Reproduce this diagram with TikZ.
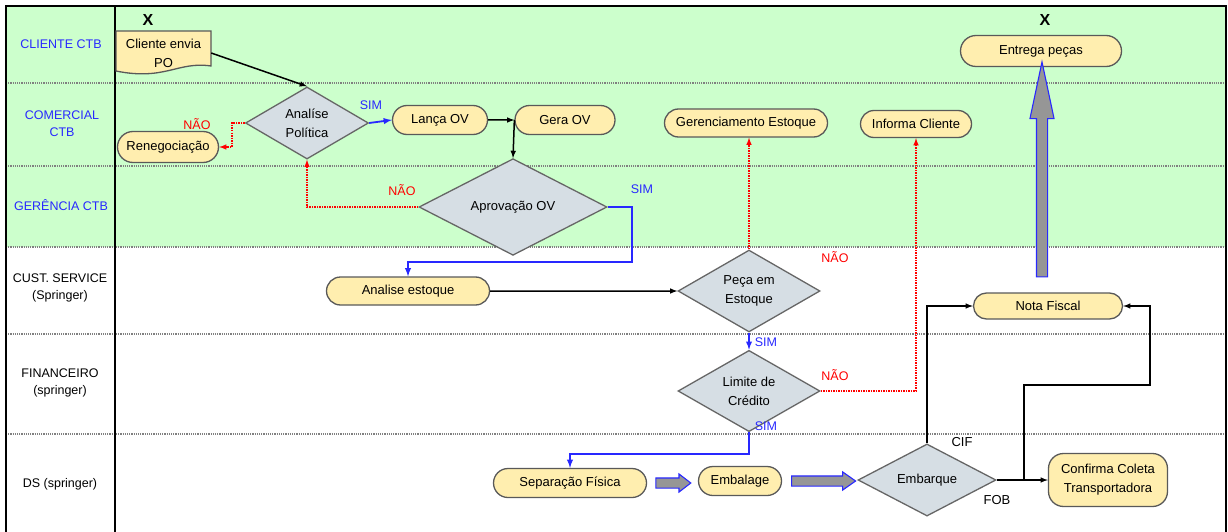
\documentclass[tikz,border=0pt]{standalone}
\usepackage{fontspec}
\setmainfont{Liberation Sans}
\usepackage{tikz}
\usetikzlibrary{positioning}
\usetikzlibrary{shapes.geometric, shapes.misc, shapes.arrows}
\usetikzlibrary{arrows}

\definecolor{lanegreen}{RGB}{204,255,204}
\definecolor{boxyellow}{RGB}{255,238,175}
\definecolor{diagray}{RGB}{214,222,228}
\definecolor{lblblue}{RGB}{40,40,255}
\definecolor{arrowgray}{RGB}{150,150,150}

\begin{document}
\begin{tikzpicture}[x=1pt, y=-1pt,
		every node/.style={font=\fontsize{13}{19}\selectfont},
		process/.style={
			draw=black!65,
			fill=boxyellow,
			rounded rectangle,
			line width=1.3pt,
			inner sep=2pt
		},
		decision/.style={
			draw=black!60,
			fill=diagray,
			diamond,
			line width=1.3pt,
			inner sep=0pt,
			align=center
		},
		blockarrow/.style={
			single arrow,
			draw=lblblue,
			fill=arrowgray,
			line width=1.1pt,
			inner xsep=0pt,
			inner ysep=4.5pt,
			single arrow head extend=4pt,
			single arrow tip angle=75
		},
		lanelabel/.style={font=\fontsize{12.5}{17}\selectfont, align=center},
		flow/.style={draw=black, line width=1.5pt, -latex},
		yesflow/.style={draw=lblblue, line width=1.8pt, -latex},
		noflow/.style={draw=red, densely dotted, line width=1.5pt, -latex},
		yeslabel/.style={text=lblblue, font=\fontsize{12.5}{15}\selectfont},
		nolabel/.style={text=red, font=\fontsize{12.5}{15}\selectfont}
	]
		\useasboundingbox (0,0) rectangle (1228,532);
		
		% lanes
		\fill[lanegreen] (6,6) rectangle (1226,247);
		\foreach \ly in {83,166,247,334,434}
			\draw[gray, densely dotted, line width=1.2pt] (6,\ly) -- (1226,\ly);
		\draw[line width=2.5pt] (6,532) -- (6,6) -- (1226,6) -- (1226,532);
		\draw[line width=2.5pt] (115,6) -- (115,532);
		
		\node[lanelabel, text=lblblue] (lcliente) at (61,44) {CLIENTE CTB};
		\node[lanelabel, text=lblblue] (lcomercial) at (62,124) {COMERCIAL\\CTB};
		\node[lanelabel, text=lblblue] (lgerencia) at (61,205) {GERÊNCIA CTB};
		\node[lanelabel] (lcust) at (60,288) {CUST. SERVICE\\(Springer)};
		\node[lanelabel] (lfin) at (60,383) {FINANCEIRO\\(springer)};
		\node[lanelabel] (lds) at (60,484) {DS (springer)};
		
		\node[font=\bfseries\fontsize{16}{16}\selectfont] (xinicio) at (148,20) {X};
		\node[font=\bfseries\fontsize{16}{16}\selectfont] (xfim) at (1045,20) {X};
		
		% documento do cliente
		\draw[draw=black!65, fill=boxyellow, line width=1.3pt] (116,31) -- (211,31) -- (211,66) .. controls (178,61) and (165,81) .. (116,71) -- cycle;
		\node[minimum width=95, minimum height=44, inner sep=0, align=center] (po) at (163.5,53) {Cliente envia\\PO};
		
		\node[decision, minimum width=123, minimum height=71] (analise) at (307,123) {Analíse\\Política};
		\node[process, minimum width=105, minimum height=31] (reneg) at (168,147) {Renegociação};
		\node[process, minimum width=99, minimum height=29] (lancaov) at (440,120) {Lança OV};
		\node[process, minimum width=104, minimum height=29] (geraov) at (565,120) {Gera OV};
		\node[decision, minimum width=188, minimum height=75] (aprovacao) at (513,207) {Aprovação OV};
		\node[process, minimum width=167, minimum height=28] (gerest) at (746,123) {Gerenciamento Estoque};
		\node[process, minimum width=115, minimum height=27] (informa) at (916,124) {Informa Cliente};
		\node[process, minimum width=165, minimum height=31] (entrega) at (1041,51) {Entrega peças};
		
		\node[process, minimum width=167, minimum height=28] (analiseest) at (408,291) {Analise estoque};
		\node[decision, minimum width=142, minimum height=75] (peca) at (749,291) {Peça em\\Estoque};
		\node[process, minimum width=153, minimum height=26] (notafiscal) at (1048,306) {Nota Fiscal};
		\node[decision, minimum width=142, minimum height=65] (limite) at (749,391) {Limite de\\Crédito};
		
		\node[process, minimum width=157, minimum height=29] (separacao) at (570,483) {Separação Física};
		\node[process, minimum width=87, minimum height=29] (embalage) at (740,481) {Embalage};
		\node[decision, minimum width=138, minimum height=70] (embarque) at (927,480) {Embarque};
		\node[draw=black!65, fill=boxyellow, rounded corners=15pt, line width=1.3pt, minimum width=119, minimum height=53, align=center] (confirma) at (1108,480) {Confirma Coleta\\Transportadora};
		
		\node[blockarrow, minimum height=35] (setasep) at (670,483) {};
		\node[blockarrow, minimum height=64, single arrow tip angle=70] (setaemb) at (820,481) {};
		\node[blockarrow, rotate=90, minimum height=215, inner ysep=5pt, single arrow head extend=6.5pt, single arrow tip angle=24] (setaentrega) at (1042,182.5) {};
		
		\draw[flow] (po.east) -- (analise.north);
		\draw[yesflow] (analise.east) -- (lancaov.west);
		\node[yeslabel] (simanalise) at (371,105) {SIM};
		\draw[noflow] (analise.west) -- ++(-13,0) |- (reneg.east);
		\node[nolabel] (naoanalise) at (197,124) {NÃO};
		\draw[flow] (lancaov) -- (geraov);
		\draw[flow] (geraov.west) -- (aprovacao.north);
		\draw[noflow] (aprovacao.west) -| (analise.south);
		\node[nolabel] (naoaprov) at (402,190) {NÃO};
		\draw[yesflow] (aprovacao.east) -- ++(24,0) -- ++(0,55) -| (analiseest.north);
		\node[yeslabel] (simaprov) at (642,189) {SIM};
		\draw[flow] (analiseest) -- (peca);
		\draw[noflow] (peca.north) -- (peca.north |- gerest.south);
		\node[nolabel] (naopeca) at (835,257) {NÃO};
		\draw[yesflow] (peca.south) -- (limite.north);
		\node[yeslabel] (simpeca) at (766,342) {SIM};
		\draw[noflow] (limite.east) -| (informa.south);
		\node[nolabel] (naolimite) at (835,375) {NÃO};
		\draw[yesflow] (limite.south) -- ++(0,22) -| (separacao.north);
		\node[yeslabel] (simlimite) at (766,426) {SIM};
		
		\draw[flow] (embarque.north) |- (notafiscal.west);
		\node (cif) at (962,442) {CIF};
		\draw[flow] (embarque.east) -- (confirma.west);
		\node (fob) at (997,500) {FOB};
		\coordinate (fobsplit) at (1024,480);
		\draw[flow] (fobsplit) -- ++(0,-95) -- ++(126,0) |- (notafiscal.east);
	\end{tikzpicture}
\end{document}
